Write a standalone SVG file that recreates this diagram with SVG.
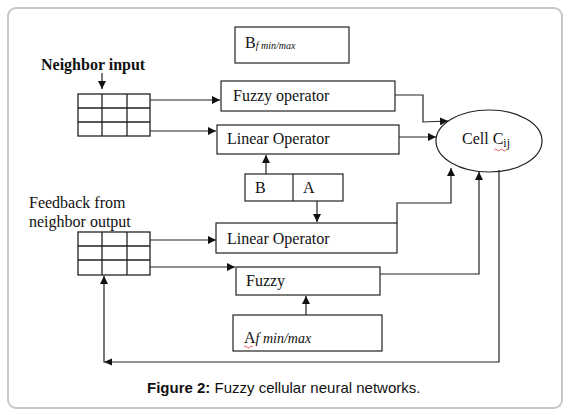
<svg xmlns="http://www.w3.org/2000/svg" width="574" height="415" viewBox="0 0 574 415">
<style>
.box{fill:#fff;stroke:#222;stroke-width:1.2}
.ln{fill:none;stroke:#222;stroke-width:1.2}
.grid{fill:none;stroke:#222;stroke-width:1.3}
.t{font-family:"Liberation Serif","Times New Roman",serif;font-size:16px;fill:#111}
.it{font-style:italic}
.cap{font-family:"Liberation Sans",Arial,sans-serif;font-size:15px;fill:#111}
</style>
<defs>
<marker id="ah" viewBox="0 0 10 10" refX="10" refY="5" markerWidth="8" markerHeight="8" markerUnits="userSpaceOnUse" orient="auto">
<path d="M0,0 L10,5 L0,10 z" fill="#111"/>
</marker>
</defs>
<rect x="8" y="8" width="554" height="400" rx="8" fill="#fff" stroke="#c8c8c8" stroke-width="2"/>

<g id="bf">
<rect class="box" x="235" y="27" width="114" height="36"/>
<text class="t" x="245" y="48">B<tspan class="it" font-size="10" dy="1">f min/max</tspan></text>
</g>

<g id="neighbor-input">
<text class="t" x="41" y="70" font-weight="bold" font-size="13.5">Neighbor input</text>
<rect class="grid" x="78" y="94" width="72" height="42"/>
<path class="grid" d="M102,94V136M127,94V136M78,108H150M78,122H150"/>
</g>

<g id="fuzzy-operator">
<rect class="box" x="221" y="81" width="174" height="30"/>
<text class="t" x="233" y="101">Fuzzy operator</text>
</g>

<g id="linear-operator-1">
<rect class="box" x="217" y="125" width="182" height="29"/>
<text class="t" x="227" y="144">Linear Operator</text>
</g>

<g id="ba">
<rect class="box" x="245" y="174" width="98" height="27"/>
<line class="ln" x1="293" y1="174" x2="293" y2="201"/>
<text class="t" x="255" y="193">B</text>
<text class="t" x="303" y="193">A</text>
</g>

<g id="cell">
<ellipse cx="489" cy="141" rx="53" ry="31" fill="#fff" stroke="#222" stroke-width="1.2"/>
<text class="t" x="462" y="144">Cell C<tspan font-size="12" dy="3">ij</tspan></text>
<path d="M494,150 q1.5,-2 3,0 t3,0 t3,0 t3,0" fill="none" stroke="#d33" stroke-width="0.8"/>
</g>

<g id="feedback">
<text class="t" x="29" y="208">Feedback from</text>
<text class="t" x="29" y="227">neighbor output</text>
<rect class="grid" x="78" y="232" width="72" height="43"/>
<path class="grid" d="M102,232V275M127,232V275M78,246H150M78,260H150"/>
</g>

<g id="linear-operator-2">
<rect class="box" x="216" y="223" width="181" height="30"/>
<text class="t" x="227" y="244">Linear Operator</text>
</g>

<g id="fuzzy">
<rect class="box" x="236" y="267" width="144" height="28"/>
<text class="t" x="246" y="286">Fuzzy</text>
</g>

<g id="af">
<rect class="box" x="233" y="315" width="149" height="36"/>
<text class="t" x="244" y="343">A<tspan class="it" font-size="14">f min/max</tspan></text>
<path d="M244,347 q1.5,-2 3,0 t3,0 t3,0" fill="none" stroke="#d33" stroke-width="0.8"/>
</g>

<g id="connectors">
<line class="ln" x1="102" y1="73" x2="102" y2="89" marker-end="url(#ah)"/>
<line class="ln" x1="150" y1="100" x2="220" y2="100" marker-end="url(#ah)"/>
<line class="ln" x1="150" y1="131" x2="216" y2="131" marker-end="url(#ah)"/>
<line class="ln" x1="266" y1="174" x2="266" y2="155" marker-end="url(#ah)"/>
<polyline class="ln" points="395,95 423,95 423,122 448,121" marker-end="url(#ah)"/>
<line class="ln" x1="399" y1="137" x2="436" y2="137" marker-end="url(#ah)"/>
<line class="ln" x1="317" y1="201" x2="317" y2="222" marker-end="url(#ah)"/>
<polyline class="ln" points="397,223 397,203 451,203 451,168" marker-end="url(#ah)"/>
<polyline class="ln" points="380,274 479,274 479,172" marker-end="url(#ah)"/>
<line class="ln" x1="150" y1="240" x2="216" y2="240" marker-end="url(#ah)"/>
<line class="ln" x1="150" y1="267" x2="235" y2="267" marker-end="url(#ah)"/>
<line class="ln" x1="306" y1="315" x2="306" y2="296" marker-end="url(#ah)"/>
<polyline class="ln" points="499,170 499,362 104,362 104,276" marker-end="url(#ah)"/>
<path d="M104,362 L112,358.5 L112,365.5 z" fill="#111"/>
</g>

<text class="cap" x="147" y="393"><tspan font-weight="bold">Figure 2:</tspan> Fuzzy cellular neural networks.</text>
</svg>
